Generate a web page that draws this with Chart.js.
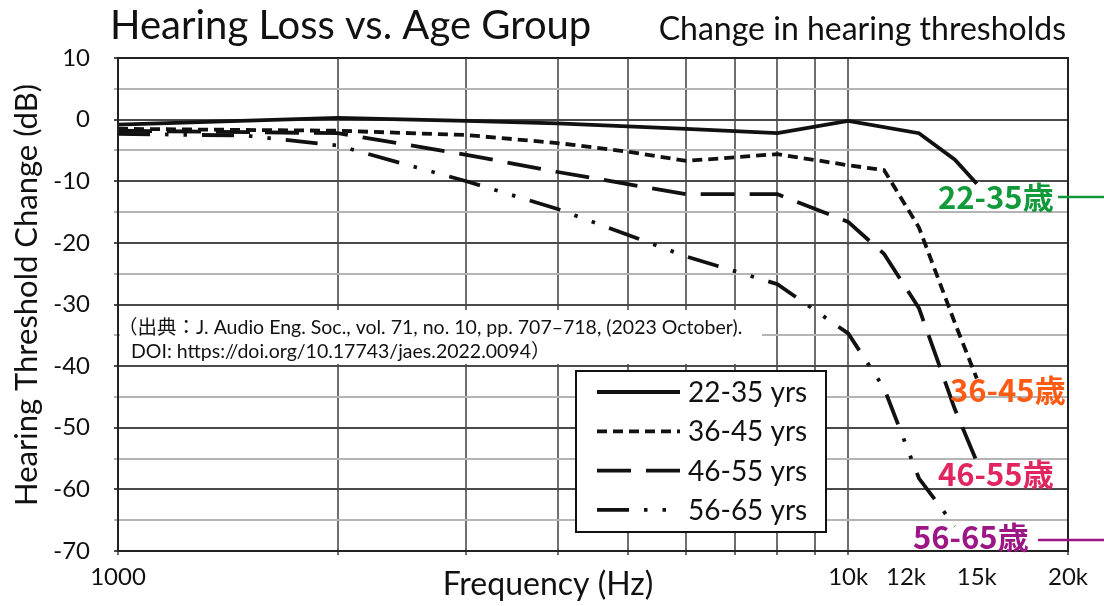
<!DOCTYPE html>
<html>
<head>
<meta charset="utf-8">
<script src="https://cdn.jsdelivr.net/npm/chart.js@4.4.1/dist/chart.umd.min.js"></script>
<style>
  html, body { margin: 0; padding: 0; background: #fff; }
  #wrap { width: 1104px; height: 606px; }
</style>
</head>
<body>
<div id="wrap"><canvas id="hearing"></canvas></div>
<script>
// age groups (legend) and the coloured tags at the right edge
const groups = ['22-35 yrs', '36-45 yrs', '46-55 yrs', '56-65 yrs'];
const tags = ['22-35歳', '36-45歳', '46-55歳', '56-65歳'];

// frequency (Hz) and threshold change (dB)
const freq2235 = [1000, 2000, 3000, 4000, 6000, 8000, 10000, 12500, 14000, 15000];
const loss2235 = [-0.8, 0.3, -0.2, -0.6, -1.5, -2.2, -0.2, -2.2, -6.5, -10.4];

const freq3645 = [1000, 2000, 3000, 4000, 5000, 6000, 8000, 10000, 11200, 12500, 14000, 15000];
const loss3645 = [-1.5, -1.8, -2.5, -3.8, -5.2, -6.7, -5.6, -7.4, -8.2, -17.5, -33, -42];

const freq4655 = [1000, 2000, 3000, 4000, 6000, 8000, 10000, 11200, 12500, 14000, 15000];
const loss4655 = [-1.8, -2.2, -5.7, -8.5, -12.1, -12.1, -16.6, -21.8, -30.6, -47, -55.5];

const freq5665 = [1000, 1500, 2000, 3000, 4000, 6000, 8000, 10000, 11200, 12500, 14000];
const loss5665 = [-2.3, -2.6, -4.2, -10, -14.5, -22.2, -26.7, -34.7, -43.6, -58.2, -66];

// x axis: grid every 1k up to 10k, labels only on some
const xGridTicks = [1000, 2000, 3000, 4000, 5000, 6000, 7000, 8000, 9000, 10000, 12000, 15000, 20000];
const xLabelValues = [1000, 10000, 12000, 15000, 20000];
const xLabelText = ['1000', '10k', '12k', '15k', '20k'];
const xNoGrid = [12000, 15000];

const citation = [
  '（出典：J. Audio Eng. Soc., vol. 71, no. 10, pp. 707–718, (2023 October).',
  'DOI: https://doi.org/10.17743/jaes.2022.0094）'
];

const dashes = [[], [10, 6], [34, 15], [32, 15, 3.5, 15, 3.5, 15]];
const pairs = (xs, ys) => xs.map((x, i) => ({ x: x, y: ys[i] }));
const series = [pairs(freq2235, loss2235), pairs(freq3645, loss3645), pairs(freq4655, loss4655), pairs(freq5665, loss5665)];

Chart.defaults.font.family = 'Lato';
Chart.defaults.color = '#111';

const decor = {
  id: 'decor',
  beforeDatasetsDraw(chart) {
    // white patch behind the citation
    const c = chart.ctx;
    c.save();
    c.fillStyle = '#fff';
    c.fillRect(120, 310, 642, 54);
    c.restore();
  },
  afterDraw(chart) {
    const c = chart.ctx;
    const a = chart.chartArea;
    c.save();
    // frame
    c.strokeStyle = '#222';
    c.lineWidth = 2;
    c.strokeRect(a.left, a.top, a.right - a.left, a.bottom - a.top);

    // titles
    c.fillStyle = '#111';
    c.textBaseline = 'alphabetic';
    c.textAlign = 'left';
    c.font = '40px Lato';
    c.fillText('Hearing Loss vs. Age Group', 110, 39);
    c.textAlign = 'right';
    c.font = '32px Lato';
    c.fillText('Change in hearing thresholds', 1066, 40);

    // axis titles
    c.textAlign = 'center';
    c.textBaseline = 'middle';
    c.font = '32px Lato';
    c.fillText('Frequency (Hz)', 548, 585);
    c.save();
    c.translate(27, 295);
    c.rotate(-Math.PI / 2);
    c.font = '31px Lato';
    c.fillText('Hearing Threshold Change (dB)', 0, 0);
    c.restore();

    // citation
    c.textAlign = 'left';
    c.font = '19.5px Lato, "Noto Sans CJK JP"';
    c.fillText(citation[0], 118, 328);
    c.fillText(citation[1], 131, 352);

    // legend box
    c.fillStyle = '#fff';
    c.fillRect(576, 371, 250, 161);
    c.strokeStyle = '#111';
    c.lineWidth = 2;
    c.strokeRect(576, 371, 250, 161);
    c.font = '28px Lato';
    chart.data.datasets.forEach((ds, i) => {
      const y = 392 + i * 39.3;
      c.save();
      c.strokeStyle = ds.borderColor;
      c.lineWidth = ds.borderWidth;
      c.setLineDash(ds.borderDash);
      c.beginPath();
      c.moveTo(597, y);
      c.lineTo(680, y);
      c.stroke();
      c.restore();
      c.fillStyle = '#111';
      c.fillText(ds.label, 688, y + 1);
    });

    // coloured tags on the right
    const tagX = [938, 950, 938, 913];
    const tagY = [197, 390, 474, 537];
    const tagColor = ['#12993a', '#ff5b14', '#e1255f', '#9c1685'];
    c.font = 'bold 31px "Noto Sans CJK JP"';
    tags.forEach((t, i) => {
      c.fillStyle = tagColor[i];
      c.fillText(t, tagX[i], tagY[i]);
    });
    c.lineWidth = 2.5;
    c.strokeStyle = tagColor[0];
    c.beginPath(); c.moveTo(1058, 197); c.lineTo(1104, 197); c.stroke();
    c.strokeStyle = tagColor[3];
    c.beginPath(); c.moveTo(1038, 540); c.lineTo(1104, 540); c.stroke();
    c.restore();
  }
};

new Chart(document.getElementById('hearing'), {
  type: 'line',
  data: {
    datasets: groups.map((g, i) => ({
      label: g,
      data: series[i],
      borderColor: '#111',
      borderWidth: 3.8,
      borderDash: dashes[i],
      borderCapStyle: 'butt',
      pointRadius: 0,
      tension: 0,
      fill: false
    }))
  },
  options: {
    responsive: true,
    maintainAspectRatio: false,
    animation: false,
    layout: { padding: { top: 58, right: 36, left: 0, bottom: 0 } },
    plugins: {
      legend: { display: false },
      tooltip: { enabled: false }
    },
    scales: {
      x: {
        type: 'logarithmic',
        min: 1000,
        max: 20000,
        afterBuildTicks: s => { s.ticks = xGridTicks.map(v => ({ value: v })); },
        afterFit: s => { s.height = 55; },
        ticks: {
          autoSkip: false,
          maxRotation: 0,
          minRotation: 0,
          padding: 8,
          font: { size: 24 },
          callback: v => {
            const i = xLabelValues.indexOf(v);
            return i < 0 ? '' : xLabelText[i];
          }
        },
        grid: {
          color: ctx => xNoGrid.includes(ctx.tick.value) ? 'rgba(0,0,0,0)' : '#6e6e6e',
          lineWidth: 2,
          tickLength: 4
        },
        border: { display: false }
      },
      y: {
        min: -70,
        max: 10,
        afterFit: s => { s.width = 118; },
        ticks: {
          stepSize: 5,
          autoSkip: false,
          padding: 24,
          font: { size: 24 },
          callback: v => (v % 10 === 0 ? v : '')
        },
        grid: {
          color: ctx => (ctx.tick.value % 10 === 0 ? '#4a4a4a' : '#b4b4b4'),
          lineWidth: 2,
          tickLength: 4
        },
        border: { display: false }
      }
    }
  },
  plugins: [decor]
});
</script>
</body>
</html>
